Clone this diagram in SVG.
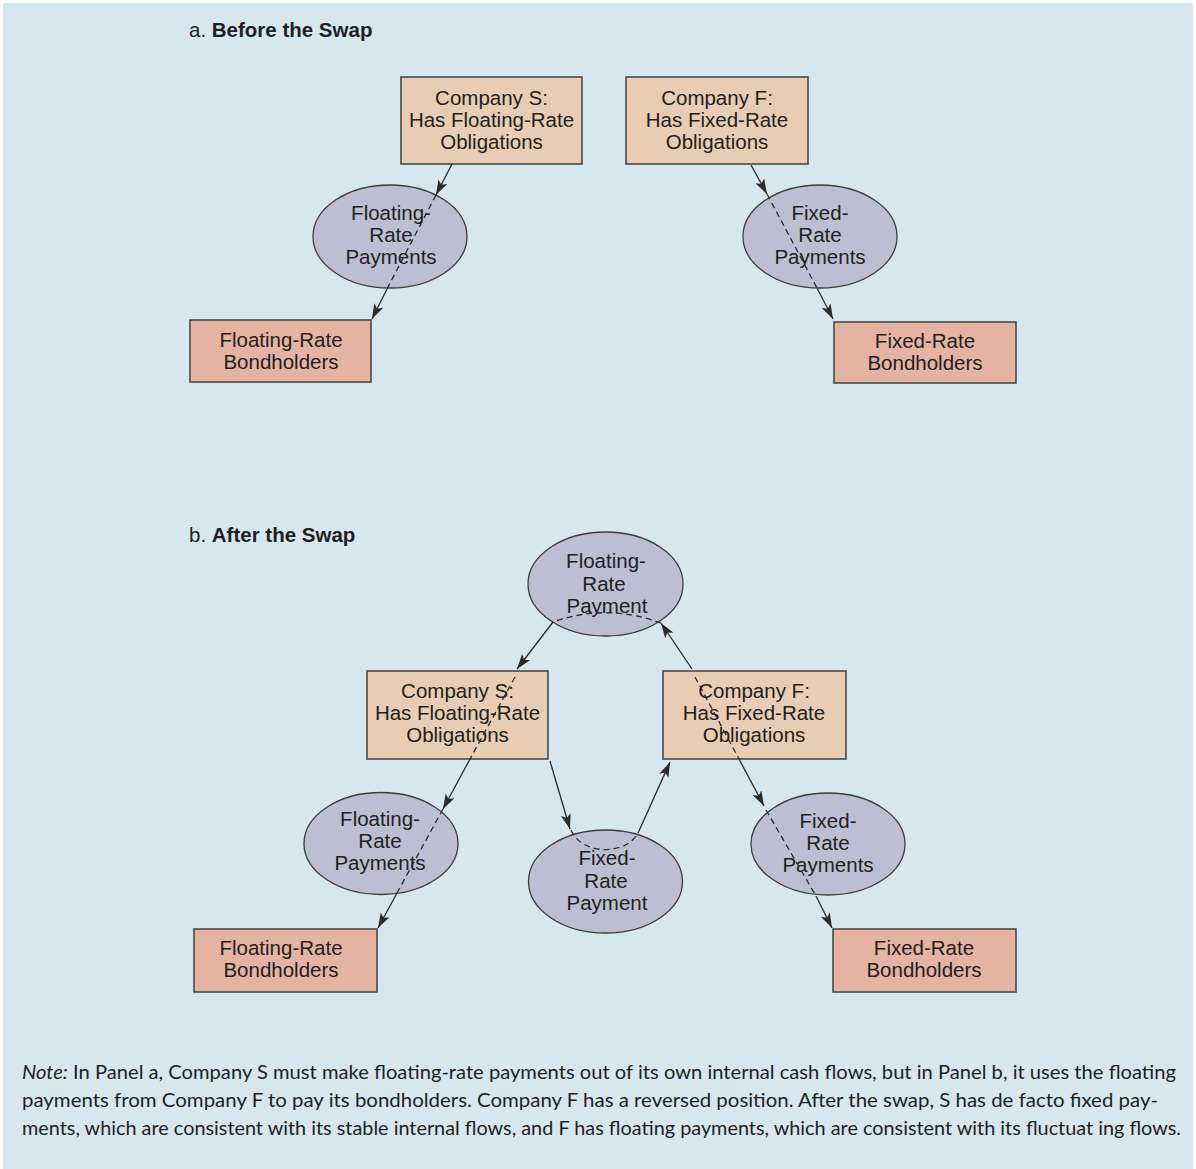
<svg xmlns="http://www.w3.org/2000/svg" width="1196" height="1169" viewBox="0 0 1196 1169">
<style>
.lbl{font-family:"Liberation Sans",Arial,Helvetica,sans-serif;font-size:20.5px;fill:#231f20;text-anchor:middle}
.ttl{font-family:"Liberation Sans",Arial,Helvetica,sans-serif;font-size:20.5px;fill:#231f20}
.co{fill:#e8cdb4;stroke:#4a4a4a;stroke-width:1.6}
.bh{fill:#e4b3a1;stroke:#4a4a4a;stroke-width:1.6}
.el{fill:#bdbdd4;stroke:#3d3d3d;stroke-width:1.3}
.ln{fill:none;stroke:#2b2b2b;stroke-width:1.3}
.dl{fill:none;stroke:#2b2b2b;stroke-width:1.3;stroke-dasharray:6 4}
.note{font-family:Lato,"Open Sans",sans-serif;font-size:19px;fill:#231f20}
</style>
<defs>
<marker id="ah" markerUnits="userSpaceOnUse" markerWidth="16" markerHeight="12" refX="15" refY="5" orient="auto">
<path d="M0,0 L15,5 L0,10 L3.5,5 z" fill="#2b2b2b"/>
</marker>
</defs>
<rect x="0" y="0" width="1196" height="1169" fill="#ffffff"/>
<rect x="3" y="3" width="1190" height="1166" fill="#d6e7ef"/>

<text class="ttl" x="189" y="37">a. <tspan font-weight="bold">Before the Swap</tspan></text>
<text class="ttl" x="189" y="542">b. <tspan font-weight="bold">After the Swap</tspan></text>

<g id="a-company-s"><rect class="co" x="401" y="77" width="181" height="87"/>
<text class="lbl" x="491.5" y="105">Company S:</text><text class="lbl" x="491.5" y="127">Has Floating-Rate</text><text class="lbl" x="491.5" y="149">Obligations</text></g>
<g id="a-company-f"><rect class="co" x="626" y="77" width="182" height="87"/>
<text class="lbl" x="717" y="105">Company F:</text><text class="lbl" x="717" y="127">Has Fixed-Rate</text><text class="lbl" x="717" y="149">Obligations</text></g>
<g id="a-float-pay"><ellipse class="el" cx="390" cy="236.5" rx="77" ry="51.5"/>
<text class="lbl" x="391" y="220">Floating-</text><text class="lbl" x="391" y="242">Rate</text><text class="lbl" x="391" y="264">Payments</text></g>
<g id="a-fixed-pay"><ellipse class="el" cx="820" cy="236.5" rx="77" ry="51.5"/>
<text class="lbl" x="820" y="220">Fixed-</text><text class="lbl" x="820" y="242">Rate</text><text class="lbl" x="820" y="264">Payments</text></g>
<g id="a-float-bh"><rect class="bh" x="190" y="320" width="181" height="62"/>
<text class="lbl" x="281" y="347">Floating-Rate</text><text class="lbl" x="281" y="369">Bondholders</text></g>
<g id="a-fixed-bh"><rect class="bh" x="834" y="322" width="182" height="61"/>
<text class="lbl" x="925" y="348">Fixed-Rate</text><text class="lbl" x="925" y="370">Bondholders</text></g>

<g id="b-float-pay-top"><ellipse class="el" cx="605.5" cy="584" rx="77.5" ry="52"/>
<text class="lbl" x="606" y="568">Floating-</text><text class="lbl" x="604" y="591">Rate</text><text class="lbl" x="607" y="613">Payment</text></g>
<g id="b-company-s"><rect class="co" x="367" y="671" width="181" height="88"/>
<text class="lbl" x="457.5" y="698">Company S:</text><text class="lbl" x="457.5" y="720">Has Floating-Rate</text><text class="lbl" x="457.5" y="742">Obligations</text></g>
<g id="b-company-f"><rect class="co" x="663" y="671" width="183" height="88"/>
<text class="lbl" x="754" y="698">Company F:</text><text class="lbl" x="754" y="720">Has Fixed-Rate</text><text class="lbl" x="754" y="742">Obligations</text></g>
<g id="b-float-pay"><ellipse class="el" cx="381" cy="843.5" rx="77" ry="51"/>
<text class="lbl" x="380" y="826">Floating-</text><text class="lbl" x="380" y="848">Rate</text><text class="lbl" x="380" y="870">Payments</text></g>
<g id="b-fixed-pay-mid"><ellipse class="el" cx="605.5" cy="881.5" rx="77" ry="51.5"/>
<text class="lbl" x="607" y="865">Fixed-</text><text class="lbl" x="606" y="888">Rate</text><text class="lbl" x="607" y="910">Payment</text></g>
<g id="b-fixed-pay"><ellipse class="el" cx="828" cy="844" rx="77" ry="51"/>
<text class="lbl" x="828" y="828">Fixed-</text><text class="lbl" x="828" y="850">Rate</text><text class="lbl" x="828" y="872">Payments</text></g>
<g id="b-float-bh"><rect class="bh" x="194" y="929" width="183" height="63"/>
<text class="lbl" x="281" y="955">Floating-Rate</text><text class="lbl" x="281" y="977">Bondholders</text></g>
<g id="b-fixed-bh"><rect class="bh" x="833" y="929" width="183" height="63"/>
<text class="lbl" x="924" y="955">Fixed-Rate</text><text class="lbl" x="924" y="977">Bondholders</text></g>

<g id="connectors">
<line class="ln" x1="452" y1="164" x2="436" y2="195" marker-end="url(#ah)"/>
<line class="dl" x1="436" y1="195" x2="388" y2="287"/>
<line class="ln" x1="388" y1="287" x2="372" y2="319" marker-end="url(#ah)"/>
<line class="ln" x1="751" y1="165" x2="767" y2="194" marker-end="url(#ah)"/>
<line class="dl" x1="767" y1="194" x2="817" y2="288"/>
<line class="ln" x1="817" y1="288" x2="833" y2="319" marker-end="url(#ah)"/>

<line class="ln" x1="553" y1="622" x2="517" y2="669" marker-end="url(#ah)"/>
<line class="dl" x1="515" y1="677" x2="470" y2="759"/>
<line class="ln" x1="470" y1="759" x2="443" y2="809" marker-end="url(#ah)"/>
<line class="dl" x1="443" y1="809" x2="397" y2="893"/>
<line class="ln" x1="397" y1="893" x2="378" y2="928" marker-end="url(#ah)"/>

<line class="ln" x1="550" y1="761" x2="570" y2="829" marker-end="url(#ah)"/>
<path class="dl" d="M571,830 C582,856 628,856 639,831"/>
<line class="ln" x1="639" y1="831" x2="670" y2="762" marker-end="url(#ah)"/>

<line class="ln" x1="692" y1="669" x2="661" y2="623" marker-end="url(#ah)"/>
<path class="dl" d="M661,623 Q606,603 553,622"/>

<line class="dl" x1="695" y1="677" x2="739" y2="759"/>
<line class="ln" x1="739" y1="759" x2="764" y2="806" marker-end="url(#ah)"/>
<line class="dl" x1="766" y1="810" x2="816" y2="896"/>
<line class="ln" x1="816" y1="896" x2="832" y2="928" marker-end="url(#ah)"/>
</g>

<text class="note" x="22" y="1079" textLength="1154" lengthAdjust="spacingAndGlyphs"><tspan font-style="italic">Note:</tspan> In Panel a, Company S must make floating-rate payments out of its own internal cash flows, but in Panel b, it uses the floating</text>
<text class="note" x="22" y="1107" textLength="1136" lengthAdjust="spacingAndGlyphs">payments from Company F to pay its bondholders. Company F has a reversed position. After the swap, S has de facto fixed pay-</text>
<text class="note" x="22" y="1135" textLength="1159" lengthAdjust="spacingAndGlyphs">ments, which are consistent with its stable internal flows, and F has floating payments, which are consistent with its fluctuat ing flows.</text>
</svg>
